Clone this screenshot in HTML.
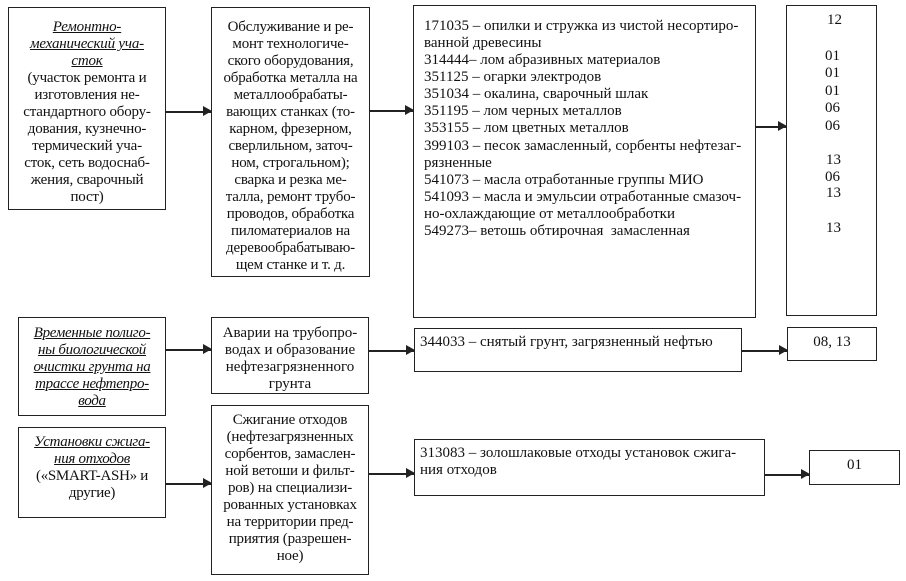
<!DOCTYPE html>
<html><head><meta charset="utf-8"><style>
body{margin:0;width:906px;height:581px;background:#fff;position:relative;overflow:hidden;font-family:"Liberation Serif","DejaVu Serif",serif;color:#111;font-size:15px;line-height:17px}
.b{position:absolute;border:1.5px solid #222;box-sizing:border-box;white-space:nowrap}
.c{text-align:center}
.t{position:absolute}
u{font-style:italic}
.a{position:absolute;height:1.5px;background:#222}
.a:after{content:"";position:absolute;right:-1px;top:-5px;border-left:9px solid #222;border-top:5.5px solid transparent;border-bottom:5.5px solid transparent}
</style></head><body>
<div class="b c" style="left:8px;top:7px;width:158px;height:203px;padding-top:11px;letter-spacing:-0.2px"><u>Ремонтно-<br>механический уча-<br>сток</u><br>(участок ремонта и<br>изготовления не-<br>стандартного обору-<br>дования, кузнечно-<br>термический уча-<br>сток, сеть водоснаб-<br>жения, сварочный<br>пост)</div>
<div class="b c" style="left:211px;top:7px;width:159px;height:270px;padding-top:11px;letter-spacing:-0.2px">Обслуживание и ре-<br>монт технологиче-<br>ского оборудования,<br>обработка металла на<br>металлообрабаты-<br>вающих станках (то-<br>карном, фрезерном,<br>сверлильном, заточ-<br>ном, строгальном);<br>сварка и резка ме-<br>талла, ремонт трубо-<br>проводов, обработка<br>пиломатериалов на<br>деревообрабатываю-<br>щем станке и т. д.</div>
<div class="b" style="left:413px;top:5px;width:343px;height:313px;padding:12px 0 0 10px">171035 – опилки и стружка из чистой несортиро-<br>ванной древесины<br>314444– лом абразивных материалов<br>351125 – огарки электродов<br>351034 – окалина, сварочный шлак<br>351195 – лом черных металлов<br>353155 – лом цветных металлов<br><div style="margin-top:1px">399103 – песок замасленный, сорбенты нефтезаг-<br>рязненные<br>541073 – масла отработанные группы МИО<br>541093 – масла и эмульсии отработанные смазоч-<br>но-охлаждающие от металлообработки<br>549273– ветошь обтирочная&nbsp; замасленная</div></div>
<div class="b" style="left:786px;top:5px;width:91px;height:311px"></div>
<div class="t" style="left:827px;top:12px">12</div>
<div class="t" style="left:825px;top:48px">01</div>
<div class="t" style="left:825px;top:65px">01</div>
<div class="t" style="left:825px;top:83px">01</div>
<div class="t" style="left:825px;top:100px">06</div>
<div class="t" style="left:825px;top:118px">06</div>
<div class="t" style="left:826px;top:152px">13</div>
<div class="t" style="left:825px;top:169px">06</div>
<div class="t" style="left:826px;top:185px">13</div>
<div class="t" style="left:826px;top:220px">13</div>
<div class="a" style="left:166px;top:111px;width:45px"></div>
<div class="a" style="left:370px;top:110px;width:43px"></div>
<div class="a" style="left:756px;top:126px;width:30px"></div>

<div class="b c" style="left:18px;top:317px;width:148px;height:99px;padding-top:7px;letter-spacing:-0.3px"><u style="text-decoration:underline">Временные полиго-<br>ны биологической<br>очистки грунта на<br>трассе нефтепро-<br>вода</u></div>
<div class="b c" style="left:211px;top:317px;width:158px;height:77px;padding-top:7px">Аварии на трубопро-<br>водах и образование<br>нефтезагрязненного<br>грунта</div>
<div class="b" style="left:414px;top:328px;width:328px;height:44px;padding:5px 0 0 5px">344033 – снятый грунт, загрязненный нефтью</div>
<div class="b c" style="left:787px;top:327px;width:90px;height:34px;padding-top:6px">08, 13</div>
<div class="a" style="left:166px;top:349px;width:45px"></div>
<div class="a" style="left:369px;top:350px;width:45px"></div>
<div class="a" style="left:742px;top:350px;width:45px"></div>

<div class="b c" style="left:18px;top:427px;width:148px;height:91px;padding-top:6px;letter-spacing:-0.3px"><u>Установки сжига-<br>ния отходов</u><br>(«SMART-ASH» и<br>другие)</div>
<div class="b c" style="left:211px;top:405px;width:158px;height:170px;padding-top:6px;letter-spacing:-0.2px">Сжигание отходов<br>(нефтезагрязненных<br>сорбентов, замаслен-<br>ной ветоши и фильт-<br>ров) на специализи-<br>рованных установках<br>на территории пред-<br>приятия (разрешен-<br>ное)</div>
<div class="b" style="left:414px;top:439px;width:351px;height:57px;padding:5px 0 0 5px">313083 – золошлаковые отходы установок сжига-<br>ния отходов</div>
<div class="b c" style="left:809px;top:450px;width:91px;height:35px;padding-top:6px">01</div>
<div class="a" style="left:166px;top:483px;width:45px"></div>
<div class="a" style="left:369px;top:473px;width:45px"></div>
<div class="a" style="left:765px;top:474px;width:44px"></div>
</body></html>
